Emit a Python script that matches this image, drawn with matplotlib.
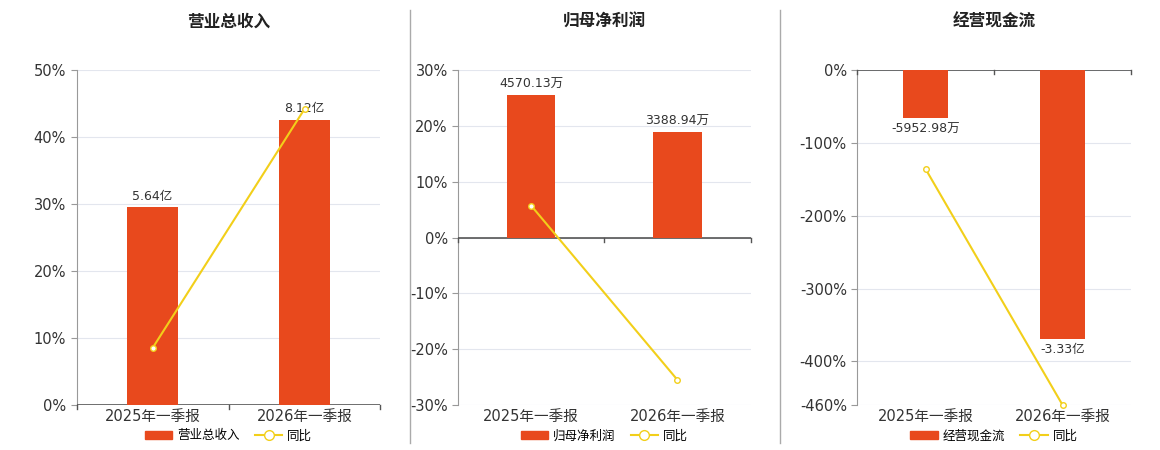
import matplotlib
matplotlib.use("Agg")
import matplotlib.pyplot as plt
from matplotlib.lines import Line2D
from matplotlib.patches import Patch

plt.rcParams['font.family'] = ['DejaVu Sans', 'Noto Sans CJK SC']

categories = ["2025年一季报", "2026年一季报"]
titles = ["营业总收入", "归母净利润", "经营现金流"]
legend_names = ["营业总收入", "归母净利润", "经营现金流"]
bar_values = [[5.64, 8.12], [4570.13, 3388.94], [-0.595298, -3.33]]
bar_labels = [["5.64亿", "8.12亿"], ["4570.13万", "3388.94万"], ["-5952.98万", "-3.33亿"]]
yoy = [[8.5, 44.2], [5.7, -25.5], [-136, -460]]
bar_pct = [[29.6, 42.5], [25.5, 18.9], [-66, -387]]  # bar heights on the % axis scale
yticks = [[0, 10, 20, 30, 40, 50], [-30, -20, -10, 0, 10, 20, 30], [-460, -400, -300, -200, -100, 0]]
ylims = [(0, 50), (-30, 30), (-460, 0)]

BAR = "#E8491D"
LINE = "#F2CF1A"

fig = plt.figure(figsize=(11.6, 4.5), dpi=100)
rects = [[0.066, 0.1, 0.262, 0.744], [0.395, 0.1, 0.252, 0.744], [0.739, 0.1, 0.236, 0.744]]
for i in range(3):
    ax = fig.add_axes(rects[i])
    x = [0, 1]
    ax.set_xlim(-0.5, 1.5)
    ax.set_ylim(*ylims[i])
    ax.set_yticks(yticks[i])
    ax.set_yticklabels([f"{t}%" for t in yticks[i]], fontsize=10.5, color="#333")
    ax.grid(axis='y', color="#e3e6ee", lw=0.8)
    ax.set_axisbelow(True)
    scale = bar_pct[i][0] / bar_values[i][0]
    ax2 = ax.twinx()
    ax2.set_ylim(ylims[i][0] / scale, ylims[i][1] / scale)
    ax2.axis('off')
    bars = ax2.bar(x, bar_values[i], width=0.33, color=BAR, zorder=2)
    for b, v, lab in zip(bars, bar_values[i], bar_labels[i]):
        off = 3 if v >= 0 else -3
        ax2.annotate(lab, (b.get_x() + b.get_width() / 2, v), xytext=(0, off),
                     textcoords='offset points', ha='center',
                     va='bottom' if v >= 0 else 'top', fontsize=9, color="#333")
    ax3 = ax.twinx()
    ax3.set_ylim(*ylims[i])
    ax3.axis('off')
    ax3.plot(x, yoy[i], color=LINE, lw=1.5, marker='o', ms=4,
             markerfacecolor='white', markeredgecolor=LINE, zorder=3, clip_on=False)
    ax.set_xticks(x)
    ax.set_xticklabels(categories, fontsize=10.5, color="#333")
    ax.tick_params(axis='x', length=0, pad=3)
    ax.tick_params(axis='y', length=4, color="#999")
    for s in ['top', 'right', 'bottom']:
        ax.spines[s].set_visible(False)
    ax.spines['left'].set_color("#999")
    ax.axhline(0, color="#555", lw=1.2, zorder=4)
    for xb in [-0.5, 0.5, 1.5]:
        ax.plot([xb, xb], [0, -(ylims[i][1] - ylims[i][0]) * 0.012], color="#555", lw=1,
                clip_on=False, zorder=4)
    cx = rects[i][0] + rects[i][2] / 2
    fig.text(cx, 1 - 22 / 450, titles[i], fontsize=12, fontweight='bold', color="#222",
             ha='center', va='center')
    handles = [Patch(color=BAR), Line2D([], [], color=LINE, marker='o', ms=7,
                                        markerfacecolor='white', lw=1.5)]
    ax.legend(handles, [legend_names[i], "同比"], loc='center',
              bbox_to_anchor=(0.5, (436 - 405) / -335),
              ncol=2, frameon=False, fontsize=9, handlelength=2.2, columnspacing=1.2,
              handletextpad=0.4, borderpad=0)

for xf in [410 / 1160, 780 / 1160]:
    fig.add_artist(Line2D([xf, xf], [1 - 443 / 450, 1 - 10 / 450], color="#aaa", lw=1))

fig.savefig("out.png", dpi=100)
